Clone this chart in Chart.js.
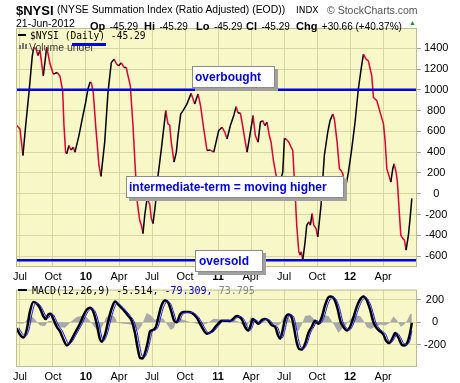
<!DOCTYPE html>
<html>
<head>
<meta charset="utf-8">
<script src="https://cdn.jsdelivr.net/npm/chart.js@4/dist/chart.umd.min.js"></script>
<style>
  body { margin: 0; background: #fff; width: 460px; height: 383px; overflow: hidden; position: relative;
         font-family: "Liberation Sans", Arial, sans-serif; }
  .abs { position: absolute; white-space: nowrap; line-height: 1; }
  .mono { font-family: "DejaVu Sans Mono", monospace; font-size: 10px; }
  .lab { font-weight: bold; font-size: 11px; }
  .val { font-size: 10px; }
  .note { position: absolute; background: #fff; border: 1px solid #8c8c8c; box-shadow: 3px 3px 0 #a0a0a0;
          color: #0000e6; font-weight: bold; font-size: 12px; line-height: 20px; padding-left: 2px; box-sizing: border-box; white-space: nowrap; }
  #mainWrap { position: absolute; left: 0; top: 0; width: 460px; height: 284px; }
  #macdWrap { position: absolute; left: 0; top: 280px; width: 460px; height: 103px; }
</style>
</head>
<body>
<div id="mainWrap"><canvas id="nysiChart"></canvas></div>
<div id="macdWrap"><canvas id="macdChart"></canvas></div>

<!-- header -->
<div class="abs" style="left:16px;top:4px;font-size:13px;font-weight:bold;">$NYSI</div>
<div class="abs" style="left:57px;top:5px;font-size:10.4px;">(NYSE Summation Index (Ratio Adjusted) (EOD))</div>
<div class="abs" style="left:296px;top:6px;font-size:9px;font-family:'DejaVu Sans',sans-serif;">INDX</div>
<div class="abs" style="left:327px;top:5px;font-size:10.5px;color:#555;">&copy; StockCharts.com</div>
<div class="abs val" style="left:16px;top:18px;font-size:10.5px;">21-Jun-2012</div>
<div class="abs" style="left:90px;top:17px;"><span class="lab">Op</span> <span class="val">-45.29</span></div>
<div class="abs" style="left:144px;top:17px;"><span class="lab">Hi</span> <span class="val">-45.29</span></div>
<div class="abs" style="left:196px;top:17px;"><span class="lab">Lo</span> <span class="val">-45.29</span></div>
<div class="abs" style="left:246px;top:17px;"><span class="lab">Cl</span> <span class="val">-45.29</span></div>
<div class="abs" style="left:296px;top:17px;"><span class="lab">Chg</span> <span class="val">+30.66 (+40.37%)</span></div>
<div class="abs" style="left:409px;top:19px;font-size:7px;color:#2a8a2a;">&#9650;</div>

<!-- main legend -->
<div class="abs" style="left:18px;top:34px;width:8px;height:2px;background:#000;"></div>
<div class="abs mono" style="left:30px;top:31px;font-size:9.6px;">$NYSI (Daily) -45.29</div>
<div class="abs" style="left:19px;top:45px;width:2px;height:4px;background:#777;"></div>
<div class="abs" style="left:22px;top:43px;width:2px;height:6px;background:#777;"></div>
<div class="abs" style="left:25px;top:44px;width:2px;height:5px;background:#777;"></div>
<div class="abs" style="left:29px;top:42px;font-size:10.5px;color:#444;">Volume undef</div>
<div class="abs" style="left:72px;top:43px;width:34px;height:3px;background:#0000e6;"></div>

<!-- notes -->
<div class="note" style="left:192px;top:66px;width:83px;height:22px;">overbought</div>
<div class="note" style="left:126px;top:176px;width:218px;height:22px;">intermediate-term = moving higher</div>
<div class="note" style="left:195px;top:250px;width:68px;height:22px;padding-left:3px;">oversold</div>

<!-- macd legend -->
<div class="abs" style="left:18px;top:289px;width:9px;height:2px;background:#000;"></div>
<div class="abs mono" style="left:32px;top:286px;">MACD(12,26,9) -5.514<span style="color:#0000cc">, -79.309,</span> <span style="color:#888">73.795</span></div>

<script>
// x axis is months since 1-Jul-2009
const tickMonths = [0, 3, 6, 9, 12, 15, 18, 21, 24, 27, 30, 33];
const tickLabels = ['Jul', 'Oct', '10', 'Apr', 'Jul', 'Oct', '11', 'Apr', 'Jul', 'Oct', '12', 'Apr'];
const yearTicks = ['10', '11', '12'];

const nysiTicks = [-600, -400, -200, 0, 200, 400, 600, 800, 1000, 1200, 1400];
const macdTicks = [-200, 0, 200];
const overbought = 1000;
const oversold = -640;

// $NYSI summation index
const nysiMonths = [-0.30, 0.00, 0.27, 0.52, 0.82, 1.12, 1.27, 1.45, 1.64, 1.82, 2.12, 2.43, 2.73, 3.03, 3.39, 3.64, 3.88, 4.00, 4.15, 4.25,
  4.45, 4.64, 4.85, 5.00, 5.36, 5.66, 5.97, 6.18, 6.36, 6.48, 6.66, 6.88, 7.18, 7.36, 7.70, 8.00, 8.30, 8.55, 8.77, 8.97,
  9.21, 9.45, 9.66, 9.82, 10.03, 10.27, 10.48, 10.66, 10.88, 11.03, 11.18, 11.34, 11.55, 11.79, 11.94, 12.09, 12.30, 12.55, 12.85, 13.25,
  13.45, 13.61, 13.75, 14.00, 14.21, 14.36, 14.61, 14.82, 15.18, 15.55, 15.88, 16.18, 16.41, 16.70, 17.00, 17.30, 17.61, 18.06, 18.36, 18.61,
  18.82, 19.12, 19.43, 19.64, 19.82, 20.03, 20.18, 20.43, 20.64, 20.94, 21.18, 21.39, 21.64, 21.85, 22.06, 22.25, 22.45, 22.66, 22.82, 23.03,
  23.27, 23.55, 23.88, 24.03, 24.18, 24.43, 24.64, 24.79, 25.03, 25.15, 25.34, 25.48, 25.57, 25.70, 25.91, 26.06, 26.25, 26.39, 26.55, 26.70,
  26.91, 27.06, 27.36, 27.66, 27.97, 28.18, 28.43, 28.57, 28.82, 29.03, 29.18, 29.34, 29.57, 29.85, 30.15, 30.45, 30.75, 31.00, 31.21, 31.45,
  31.66, 31.97, 32.12, 32.43, 32.73, 33.03, 33.18, 33.34, 33.57, 33.70, 33.88, 34.00, 34.18, 34.30, 34.45, 34.61, 34.79, 34.94, 35.09, 35.30,
  35.45, 35.61];
const nysiValues = [656, 624, 368, 656, 975, 1327, 1410, 1395, 1330, 1380, 1135, 1410, 1250, 1151, 1167, 1130, 991, 656, 400, 384,
  464, 420, 448, 400, 560, 720, 879, 1008, 1071, 1071, 975, 656, 272, 167, 496, 975, 1263, 1295, 1250, 1231,
  1260, 1215, 1215, 1135, 1039, 656, 241, -80, -255, -300, -383, -207, -47, -100, -239, -287, -111, 176, 432, 800,
  672, 660, 496, 304, 400, 560, 768, 800, 864, 966, 864, 960, 848, 624, 416, 420, 400, 608, 640, 592,
  528, 656, 752, 838, 777, 777, 688, 528, 400, 592, 752, 560, 496, 688, 704, 656, 688, 560, 496, 320,
  180, 80, 208, 528, 528, 496, 448, 416, -47, -303, -559, -591, -559, -639, -463, -303, -271, -303, -191, -303,
  -335, -415, -111, 368, 592, 704, 768, 720, 496, 241, 224, 192, 49, 208, 432, 688, 1008, 1199, 1343, 1295,
  1279, 1135, 927, 895, 783, 672, 512, 241, 160, 112, 241, 288, 208, 112, -143, -399, -431, -447, -543, -399,
  -239, -45];

// MACD(12,26,9)
const macdMonths = [-0.30, 0.00, 0.30, 0.61, 0.91, 1.21, 1.52, 1.82, 2.12, 2.34, 2.57, 2.79, 3.03, 3.34, 3.64, 3.94, 4.25, 4.55, 4.85, 5.15,
  5.45, 5.75, 6.06, 6.36, 6.66, 6.97, 7.27, 7.43, 7.73, 8.03, 8.34, 8.64, 8.94, 9.39, 9.85, 10.15, 10.45, 10.70, 10.91, 11.15,
  11.36, 11.61, 11.82, 12.12, 12.36, 12.57, 12.88, 13.18, 13.48, 13.79, 14.00, 14.25, 14.55, 14.85, 15.30, 15.61, 16.06, 16.52, 16.97, 17.43,
  17.88, 18.34, 18.79, 19.09, 19.70, 20.15, 20.45, 20.75, 20.97, 21.15, 21.36, 21.66, 21.97, 22.27, 22.57, 22.88, 23.18, 23.48, 23.64, 23.88,
  24.09, 24.39, 24.70, 24.91, 25.15, 25.39, 25.61, 25.91, 26.21, 26.52, 26.82, 27.12, 27.43, 27.73, 28.03, 28.25, 28.55, 28.85, 29.15, 29.39,
  29.70, 30.00, 30.30, 30.61, 30.91, 31.21, 31.52, 31.82, 32.12, 32.43, 32.73, 33.03, 33.27, 33.57, 33.88, 34.09, 34.39, 34.70, 34.91, 35.21,
  35.45, 35.61];
const macdValues = [-55, -110, -137, -69, 95, 178, 165, 123, 54, 27, 68, 74, 27, -41, -82, -151, -206, -179, -123, -69,
  -14, 54, 110, 128, 95, -14, -151, -173, -110, 13, 123, 183, 156, 110, 54, 13, -96, -233, -316, -321,
  -275, -179, -82, -69, -41, 41, 151, 192, 173, 82, 13, 0, 68, 90, 90, 82, 41, -41, -102, -82,
  -28, 13, 13, 10, 54, 27, -41, -74, -28, 27, 13, -14, 19, 27, 13, -28, -41, -123, -146, -69,
  27, 68, 41, -55, -179, -239, -242, -192, -96, -41, 13, -14, 46, 151, 219, 227, 206, 123, 0, -41,
  -74, -41, 41, 137, 200, 227, 192, 110, 0, -55, -82, -110, -165, -184, -137, -96, -137, -200, -206, -179,
  -96, -6];

// signal line (blue), a little behind the MACD line
const signalMonths = [-0.10, 0.20, 0.50, 0.81, 1.11, 1.41, 1.72, 2.02, 2.32, 2.54, 2.77, 2.99, 3.23, 3.54, 3.84, 4.14, 4.45, 4.75, 5.05, 5.35,
  5.65, 5.95, 6.26, 6.56, 6.86, 7.17, 7.47, 7.63, 7.93, 8.23, 8.54, 8.84, 9.14, 9.59, 10.05, 10.35, 10.65, 10.90, 11.11, 11.35,
  11.56, 11.81, 12.02, 12.32, 12.56, 12.77, 13.08, 13.38, 13.68, 13.99, 14.20, 14.45, 14.75, 15.05, 15.50, 15.81, 16.26, 16.72, 17.17, 17.63,
  18.08, 18.54, 18.99, 19.29, 19.90, 20.35, 20.65, 20.95, 21.17, 21.35, 21.56, 21.86, 22.17, 22.47, 22.77, 23.08, 23.38, 23.68, 23.84, 24.08,
  24.29, 24.59, 24.90, 25.11, 25.35, 25.59, 25.81, 26.11, 26.41, 26.72, 27.02, 27.32, 27.63, 27.93, 28.23, 28.45, 28.75, 29.05, 29.35, 29.59,
  29.90, 30.20, 30.50, 30.81, 31.11, 31.41, 31.72, 32.02, 32.32, 32.63, 32.93, 33.23, 33.47, 33.77, 34.08, 34.29, 34.59, 34.90, 35.11, 35.41,
  35.61];
const signalValues = [-50, -100, -125, -70, 80, 165, 160, 120, 60, 35, 60, 68, 30, -35, -75, -140, -195, -172, -120, -68,
  -15, 50, 103, 120, 90, -10, -140, -162, -105, 10, 115, 172, 150, 106, 52, 10, -90, -220, -300, -306,
  -265, -175, -85, -68, -40, 36, 140, 182, 166, 80, 15, 3, 62, 86, 87, 80, 40, -38, -97, -80,
  -28, 12, 12, 10, 50, 26, -38, -70, -28, 22, 12, -12, 17, 25, 12, -26, -40, -116, -138, -70,
  22, 64, 40, -50, -170, -228, -232, -185, -94, -40, 12, -12, 42, 143, 208, 217, 198, 120, 2, -40,
  -70, -40, 38, 130, 192, 218, 185, 108, 2, -52, -80, -106, -158, -176, -133, -98, -135, -192, -198, -172,
  -79];

// histogram (grey area)
const histMonths = [-0.30, 0.30, 0.61, 0.91, 1.21, 1.52, 1.82, 2.27, 2.57, 2.88, 3.18, 3.64, 4.09, 4.39, 4.70, 5.15, 5.60, 6.06, 6.36, 6.82,
  7.21, 7.52, 7.82, 8.18, 8.58, 8.85, 9.39, 10.15, 10.45, 10.76, 11.06, 11.52, 11.88, 12.27, 12.67, 13.03, 13.33, 13.70, 14.00, 14.30,
  14.70, 15.30, 16.06, 16.52, 16.97, 17.58, 18.18, 18.79, 19.39, 19.85, 20.30, 20.67, 20.97, 21.21, 21.58, 22.12, 22.58, 23.03, 23.48, 23.70,
  24.00, 24.30, 24.61, 25.00, 25.30, 25.61, 25.91, 26.36, 26.82, 27.12, 27.58, 28.03, 28.33, 28.64, 28.94, 29.24, 29.64, 30.00, 30.45, 30.91,
  31.21, 31.52, 31.88, 32.27, 32.73, 33.18, 33.57, 33.94, 34.24, 34.61, 34.91, 35.21, 35.45, 35.61];
const histValues = [-10, -15, 20, 55, 40, 5, -30, -35, 10, 10, -30, -45, -50, -20, 10, 45, 55, 45, 10, -50,
  -80, -30, 40, 65, 50, -5, -15, -20, -45, -75, -30, 80, 60, 20, 40, 30, -15, -70, -50, 35,
  25, 5, -15, -25, -15, 30, 25, 5, 20, 5, -30, -30, 45, 30, -20, 10, -5, -15, -30, -10,
  55, 50, 5, -55, -80, -20, 55, 60, 20, -5, 60, 55, 10, -40, -95, -60, -20, 25, 60, 55,
  15, -45, -60, -40, -20, -30, -10, 50, 20, -40, -20, 20, 70, 74];

const plotBg = '#f7f7c8';
const gridColor = '#d6d6a0';
const frameColor = '#bdbd94';
const fontFamily = '"Liberation Sans", Arial, sans-serif';

function toPoints(xs, ys) {
  return xs.map((x, i) => ({ x: x, y: ys[i] }));
}

// pale yellow plot area with a frame
const panelPlugin = {
  id: 'panel',
  beforeDraw(chart) {
    const a = chart.chartArea, c = chart.ctx;
    c.save();
    c.fillStyle = plotBg;
    c.fillRect(a.left, a.top, a.right - a.left, a.bottom - a.top);
    c.restore();
  },
  afterDraw(chart) {
    const a = chart.chartArea, c = chart.ctx;
    c.save();
    c.strokeStyle = frameColor;
    c.lineWidth = 1;
    c.strokeRect(a.left + 0.5, a.top + 0.5, a.right - a.left - 1, a.bottom - a.top - 1);
    c.restore();
  }
};

// overbought / oversold levels
const levelPlugin = {
  id: 'levels',
  afterDatasetsDraw(chart) {
    const a = chart.chartArea, c = chart.ctx, y = chart.scales.y;
    c.save();
    c.strokeStyle = '#0000e6';
    c.lineWidth = 2.5;
    [overbought, oversold].forEach(v => {
      const py = y.getPixelForValue(v);
      c.beginPath();
      c.moveTo(a.left, py);
      c.lineTo(a.right, py);
      c.stroke();
    });
    c.restore();
  }
};

function monthAxis(axisHeight) {
  return {
    type: 'linear',
    min: -0.36,
    max: 36.08,
    afterBuildTicks: s => { s.ticks = tickMonths.map(v => ({ value: v })); },
    afterFit: s => { s.height = axisHeight; },
    grid: { color: gridColor, drawTicks: false },
    border: { display: false },
    ticks: {
      padding: 3,
      color: '#000',
      maxRotation: 0,
      autoSkip: false,
      callback: (v, i) => tickLabels[i],
      font: ctx => ({ family: fontFamily, size: 11, weight: yearTicks.includes(tickLabels[ctx.index]) ? 'bold' : 'normal' })
    }
  };
}

function valueAxis(min, max, list) {
  return {
    position: 'right',
    min: min,
    max: max,
    afterBuildTicks: s => { s.ticks = list.map(v => ({ value: v })); },
    afterFit: s => { s.width = 43; },
    grid: { color: gridColor, tickLength: 4, tickColor: '#a8a880' },
    border: { display: false },
    ticks: { crossAlign: 'center', padding: 3, color: '#000', font: { family: fontFamily, size: 11 },
             callback: v => String(v) }
  };
}

Chart.defaults.animation = false;

new Chart(document.getElementById('nysiChart'), {
  type: 'line',
  data: {
    datasets: [{
      data: toPoints(nysiMonths, nysiValues),
      borderWidth: 1.5,
      pointRadius: 0,
      tension: 0,
      segment: {
        borderColor: ctx => ctx.p1.parsed.y >= ctx.p0.parsed.y ? '#000000' : '#dd0033'
      }
    }]
  },
  options: {
    responsive: true,
    maintainAspectRatio: false,
    layout: { padding: { left: 16, top: 28, right: 0, bottom: 0 } },
    plugins: { legend: { display: false }, tooltip: { enabled: false } },
    scales: {
      x: monthAxis(17),
      y: valueAxis(-705, 1595, nysiTicks)
    }
  },
  plugins: [panelPlugin, levelPlugin]
});

new Chart(document.getElementById('macdChart'), {
  type: 'line',
  data: {
    datasets: [{
      data: toPoints(histMonths, histValues),
      borderWidth: 0,
      backgroundColor: '#a9a9a9',
      fill: 'origin',
      pointRadius: 0,
      order: 3
    }, {
      data: toPoints(macdMonths, macdValues),
      borderColor: '#000',
      borderWidth: 2.5,
      pointRadius: 0,
      cubicInterpolationMode: 'monotone',
      order: 2
    }, {
      data: toPoints(signalMonths, signalValues),
      borderColor: '#1a1aff',
      borderWidth: 1,
      pointRadius: 0,
      cubicInterpolationMode: 'monotone',
      order: 1
    }]
  },
  options: {
    responsive: true,
    maintainAspectRatio: false,
    layout: { padding: { left: 16, top: 3, right: 0, bottom: 0 } },
    plugins: { legend: { display: false }, tooltip: { enabled: false } },
    scales: {
      x: monthAxis(16),
      y: valueAxis(-397, 288, macdTicks)
    }
  },
  plugins: [panelPlugin]
});
</script>
</body>
</html>
